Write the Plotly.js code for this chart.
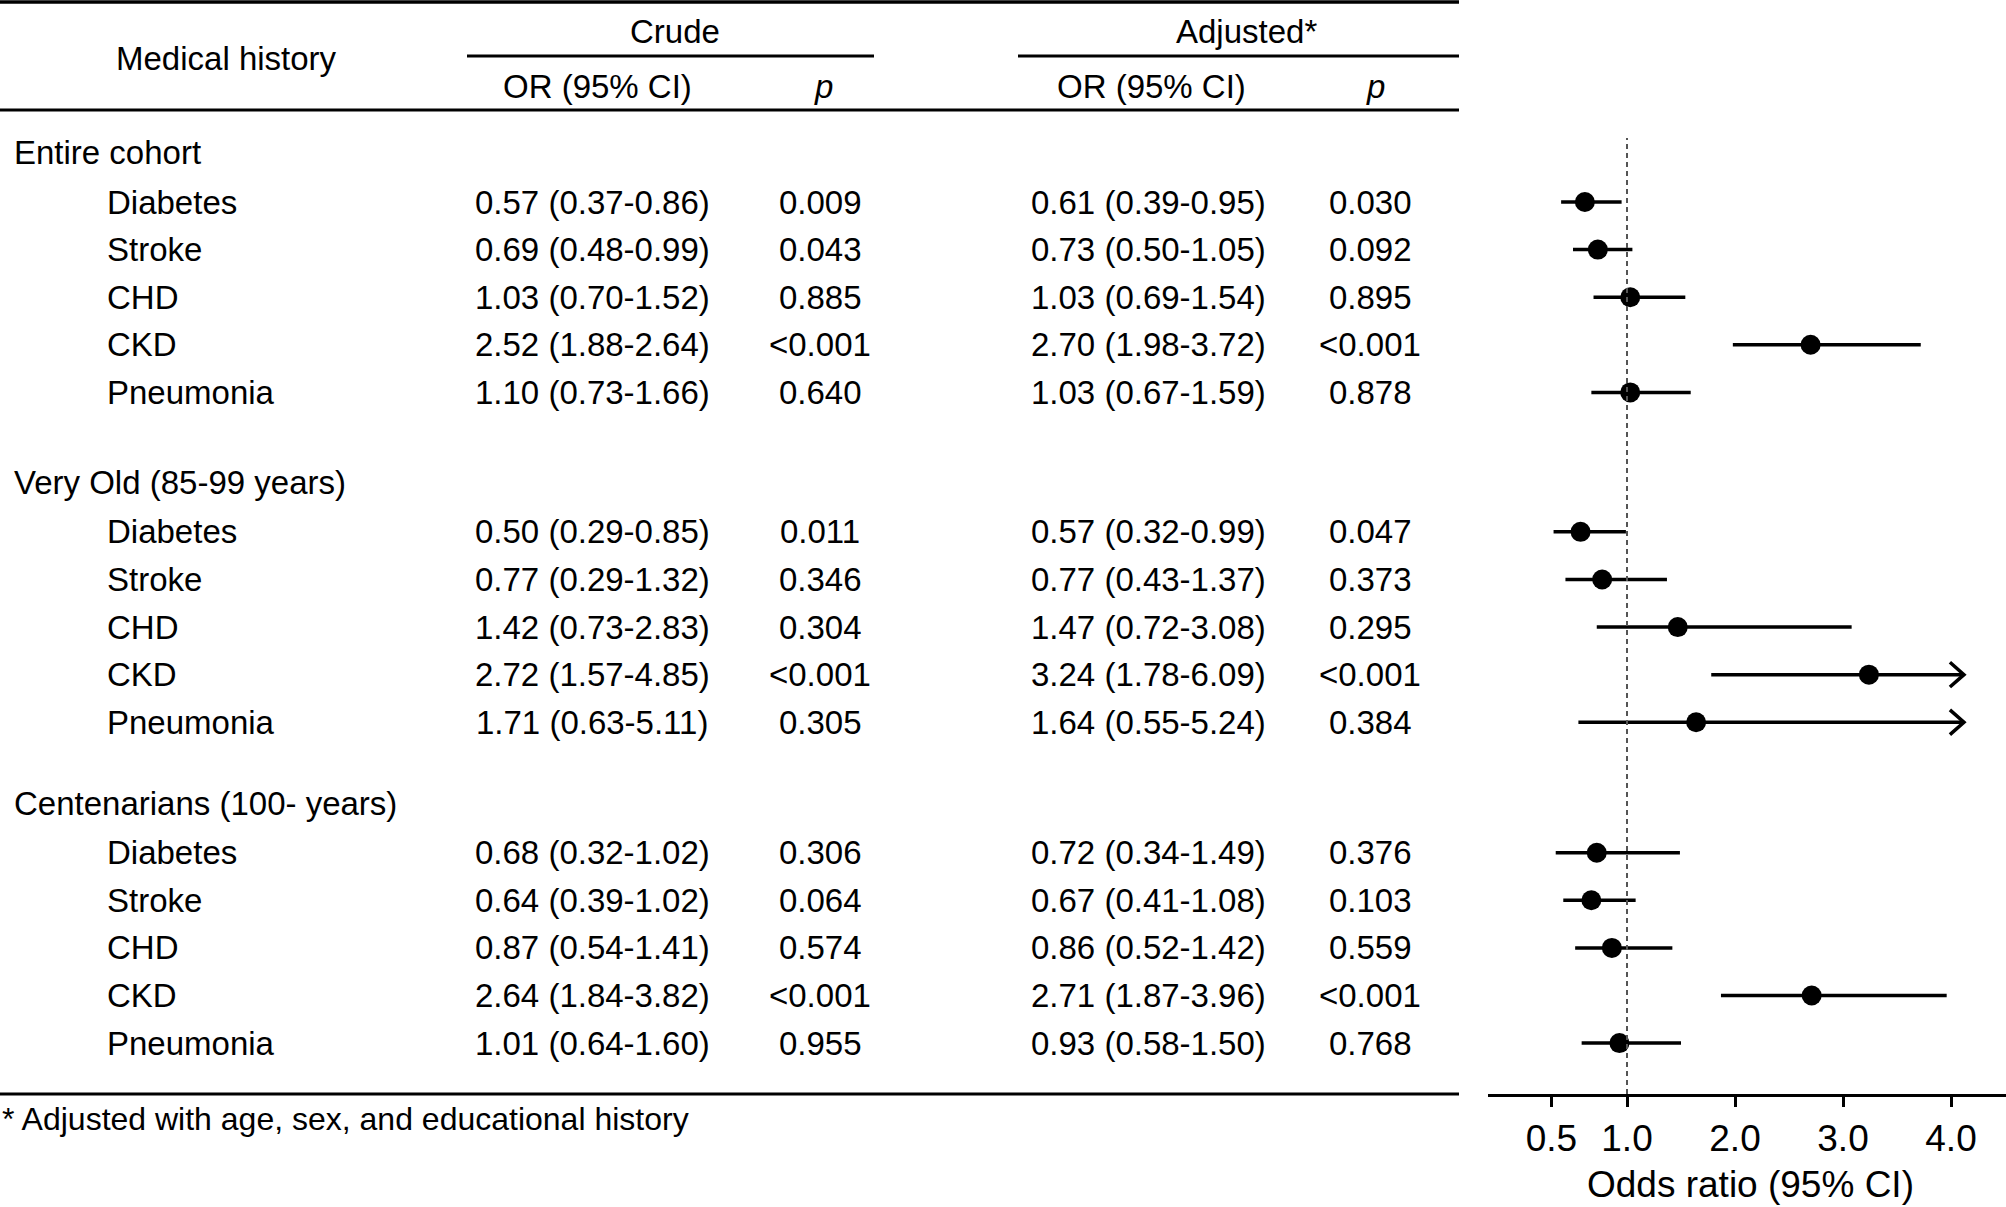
<!DOCTYPE html>
<html>
<head>
<meta charset="utf-8">
<script src="https://cdn.plot.ly/plotly-3.0.1.min.js"></script>
<style>html,body{margin:0;padding:0;background:#fff;}#chart{width:2006px;height:1207px;}</style>
</head>
<body>
<div id="chart"></div>
<script>
// ---------------- DATA ----------------
const groups = ['Entire cohort', 'Very Old (85-99 years)', 'Centenarians (100- years)'];
const conditions = ['Diabetes', 'Stroke', 'CHD', 'CKD', 'Pneumonia'];

// flat arrays: 5 conditions x 3 groups
const crudeOR = [0.57, 0.69, 1.03, 2.52, 1.10,  0.50, 0.77, 1.42, 2.72, 1.71,  0.68, 0.64, 0.87, 2.64, 1.01];
const crudeLo = [0.37, 0.48, 0.70, 1.88, 0.73,  0.29, 0.29, 0.73, 1.57, 0.63,  0.32, 0.39, 0.54, 1.84, 0.64];
const crudeHi = [0.86, 0.99, 1.52, 2.64, 1.66,  0.85, 1.32, 2.83, 4.85, 5.11,  1.02, 1.02, 1.41, 3.82, 1.60];
const crudeP  = ['0.009', '0.043', '0.885', '<0.001', '0.640',  '0.011', '0.346', '0.304', '<0.001', '0.305',  '0.306', '0.064', '0.574', '<0.001', '0.955'];

const adjOR = [0.61, 0.73, 1.03, 2.70, 1.03,  0.57, 0.77, 1.47, 3.24, 1.64,  0.72, 0.67, 0.86, 2.71, 0.93];
const adjLo = [0.39, 0.50, 0.69, 1.98, 0.67,  0.32, 0.43, 0.72, 1.78, 0.55,  0.34, 0.41, 0.52, 1.87, 0.58];
const adjHi = [0.95, 1.05, 1.54, 3.72, 1.59,  0.99, 1.37, 3.08, 6.09, 5.24,  1.49, 1.08, 1.42, 3.96, 1.50];
const adjP  = ['0.030', '0.092', '0.895', '<0.001', '0.878',  '0.047', '0.373', '0.295', '<0.001', '0.384',  '0.376', '0.103', '0.559', '<0.001', '0.768'];

const tickPositions = [0.3, 1, 2, 3, 4];
const tickLabels = ['0.5', '1.0', '2.0', '3.0', '4.0'];
const axisTitle = 'Odds ratio (95% CI)';
const footnote = '* Adjusted with age, sex, and educational history';

// ---------------- LAYOUT HELPERS ----------------
const W = 2006, H = 1207;
const px = v => v / W;
const py = v => 1 - v / H;
const FONT = 'Liberation Sans, Arial, Helvetica, sans-serif';
const FS = 33;
const SLOT = 47.6, ORIGIN = 152.5;   // row spacing in px, first row centre
const HEAD_GAP = 1.04;
const GROUP_GAPS = [1.89, 1.70];
const AXIS_Y = 1094;
const CAP = 4.12;   // right end of the drawn CI (arrow tip)

// row positions (in row units)
const headerPos = [];
const itemPos = [];
let cur = 0;
groups.forEach((g, gi) => {
  headerPos.push(cur);
  cur += HEAD_GAP;
  conditions.forEach((c, ci) => {
    itemPos.push(cur);
    if (ci < conditions.length - 1) cur += 1;
  });
  cur += (GROUP_GAPS[gi] || 0);
});

const fmt = (o, l, h) => o.toFixed(2) + ' (' + l.toFixed(2) + '-' + h.toFixed(2) + ')';

const annotations = [];
function txt(text, x, y, yref, anchor, size) {
  annotations.push({
    text: text, x: x, y: y, xref: 'paper', yref: yref,
    xanchor: anchor, yanchor: 'middle', showarrow: false,
    font: {family: FONT, size: size || FS, color: '#000'}
  });
}

// header
txt('Medical history', px(226), py(58), 'paper', 'center');
txt('Crude', px(675), py(32), 'paper', 'center');
txt('Adjusted*', px(1246), py(32), 'paper', 'center');
txt('OR (95% CI)', px(597), py(86), 'paper', 'center');
txt('<i>p</i>', px(823), py(86), 'paper', 'center');
txt('OR (95% CI)', px(1151), py(86), 'paper', 'center');
txt('<i>p</i>', px(1375), py(86), 'paper', 'center');

// group labels
groups.forEach((g, gi) => txt(g, px(12), headerPos[gi], 'y', 'left'));

// rows
itemPos.forEach((p, i) => {
  txt(conditions[i % conditions.length], px(105), p, 'y', 'left');
  txt(fmt(crudeOR[i], crudeLo[i], crudeHi[i]), px(592), p, 'y', 'center');
  txt(crudeP[i], px(820), p, 'y', 'center');
  txt(fmt(adjOR[i], adjLo[i], adjHi[i]), px(1148), p, 'y', 'center');
  txt(adjP[i], px(1370), p, 'y', 'center');
});

// footnote
txt(footnote, px(0), py(1119), 'paper', 'left', 32);

// axis title (placed as annotation for exact position)
txt(axisTitle, px(1750), py(1184), 'paper', 'center', 37);

// lines of the table
const hline = (x0, x1, y, w) => ({type: 'line', xref: 'paper', yref: 'paper',
  x0: px(x0), x1: px(x1), y0: py(y), y1: py(y), line: {color: '#000', width: w}});
const shapes = [
  hline(0, 1459, 2, 3.5),
  hline(467, 874, 56, 3),
  hline(1018, 1459, 56, 3),
  hline(0, 1459, 110, 3),
  hline(0, 1459, AXIS_Y, 3),
  {type: 'line', xref: 'x', yref: 'paper', x0: 1, x1: 1, y0: py(AXIS_Y), y1: py(138),
   line: {color: '#555', width: 2, dash: '5px,4px'}}
];

// ---------------- TRACES ----------------
const ciX = [], ciY = [], arX = [], arY = [];
itemPos.forEach((p, i) => {
  ciX.push(adjLo[i], Math.min(adjHi[i], CAP), null);
  ciY.push(p, p, null);
  if (adjHi[i] > CAP) {
    arX.push(CAP - 0.13, CAP, CAP - 0.13, null);
    arY.push(p - 0.26, p, p + 0.26, null);
  }
});

const traces = [
  {x: ciX, y: ciY, mode: 'lines', type: 'scatter', line: {color: '#000', width: 3.5}, hoverinfo: 'skip', cliponaxis: false},
  {x: arX, y: arY, mode: 'lines', type: 'scatter', line: {color: '#000', width: 3.5}, hoverinfo: 'skip', cliponaxis: false},
  {x: adjOR, y: itemPos, mode: 'markers', type: 'scatter', marker: {color: '#000', size: 20, symbol: 'circle'}, cliponaxis: false}
];

const yTop = -ORIGIN / SLOT;
const yBot = (AXIS_Y - ORIGIN) / SLOT;

const layout = {
  width: W, height: H,
  margin: {l: 0, r: 0, t: 0, b: 0, pad: 0},
  paper_bgcolor: '#fff', plot_bgcolor: 'rgba(0,0,0,0)',
  showlegend: false,
  font: {family: FONT, size: FS, color: '#000'},
  xaxis: {
    domain: [px(1488), 1],
    range: [1 - (1627 - 1488) / 108, 1 + (W - 1627) / 108],
    showgrid: false, zeroline: false,
    showline: true, linecolor: '#000', linewidth: 3,
    ticks: 'outside', ticklen: 10, tickwidth: 3, tickcolor: '#000',
    tickmode: 'array', tickvals: tickPositions, ticktext: tickLabels,
    tickfont: {family: FONT, size: 37, color: '#000'},
    ticklabelstandoff: 0,
    fixedrange: true
  },
  yaxis: {
    domain: [1 - AXIS_Y / H, 1],
    range: [yBot, yTop],
    visible: false, showgrid: false, zeroline: false, fixedrange: true
  },
  shapes: shapes,
  annotations: annotations
};

Plotly.newPlot('chart', traces, layout, {displayModeBar: false, staticPlot: true});
</script>
</body>
</html>
